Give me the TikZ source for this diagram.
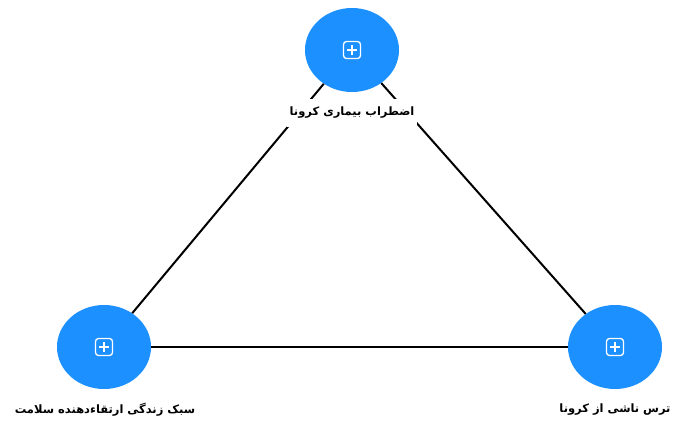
\documentclass[tikz,border=0pt]{standalone}
\usepackage{fontspec}
\usetikzlibrary{shapes.geometric}
\newfontfamily\arabicfont[Script=Arabic,BoldFont={DejaVu Sans Bold}]{DejaVu Sans}
\TeXXeTstate=1
\definecolor{topicblue}{RGB}{28,144,255}

\begin{document}
\begin{tikzpicture}[x=1pt,y=-1pt,
    topic/.style={ellipse,fill=topicblue,minimum width=94pt,minimum height=84pt,inner sep=0pt},
    caption/.style={fill=white,inner xsep=3pt,inner ysep=8pt,font=\arabicfont\bfseries\fontsize{11.5}{13}\selectfont}]
            \useasboundingbox (0,0) rectangle (673,421);
            \node[topic] (anxiety) at (352,50) {};
            \node[topic] (lifestyle) at (104,347) {};
            \node[topic] (fear) at (615,347) {};
            \draw[line width=2pt] (anxiety) -- (lifestyle);
            \draw[line width=2pt] (anxiety) -- (fear);
            \draw[line width=2pt] (lifestyle) -- (fear);
            \foreach \n in {anxiety,lifestyle,fear} {
                \draw[white,line width=1.3pt,rounded corners=3pt] ([shift={(-8.5,-8.5)}]\n.center) rectangle ([shift={(8.5,8.5)}]\n.center);
                \draw[white,line width=1.3pt] ([shift={(-5,0)}]\n.center) -- ([shift={(5,0)}]\n.center);
                \draw[white,line width=1.3pt] ([shift={(0,-5)}]\n.center) -- ([shift={(0,5)}]\n.center);
            }
            \node[caption] (anxietylabel) at (352,113) {\beginR اضطراب بیماری کرونا\endR};
            \node[caption] (lifestylelabel) at (105,410) {\beginR سبک زندگی ارتقاءدهنده سلامت\endR};
            \node[caption] (fearlabel) at (615,410) {\beginR ترس ناشی از کرونا\endR};
        \end{tikzpicture}
\end{document}
